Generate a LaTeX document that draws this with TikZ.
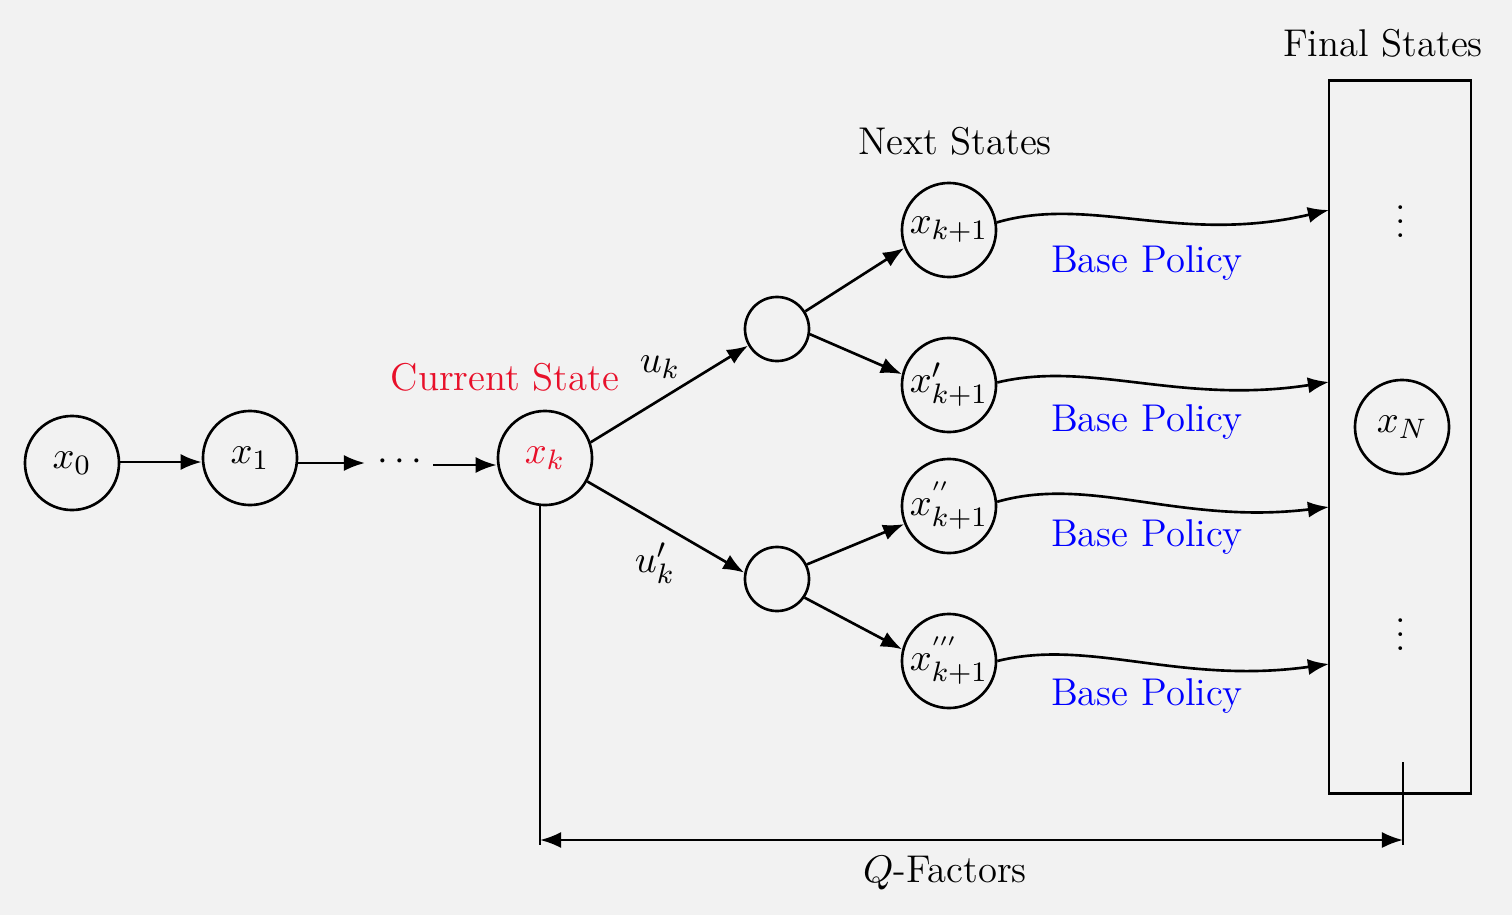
\documentclass[tikz,border=0pt]{standalone}
\usetikzlibrary{arrows.meta}
\definecolor{bgc}{HTML}{F2F2F2}
\definecolor{curred}{HTML}{E8102A}
\begin{document}
\begin{tikzpicture}[x=0.01cm,y=-0.01cm,font=\fontsize{11}{13}\selectfont,
  st/.style={circle,draw,line width=0.75pt,minimum size=0.94cm,inner sep=0pt},
  sm/.style={circle,draw,line width=0.75pt,minimum size=0.64cm,inner sep=0pt},
  tip/.tip={Latex[length=6pt,width=4.6pt]},
  arr/.style={-tip,line width=0.75pt},
  thinl/.style={line width=0.4pt},
  bp/.style={text=blue}]
\fill[bgc] (0,0) rectangle (1512,915);
\useasboundingbox (0,0) rectangle (1512,915);
% chain
\node[st] (x0) at (72,463) {$x_0$};
\node[st] (x1) at (250,458) {$x_1$};
\node (dots) at (400,462) {$\cdots$};
\node[st] (xk) at (545,458) {\color{curred}$x_k$};
\node[text=curred] (cur) at (505,377) {Current State};
% intermediate
\node[sm] (up) at (777,329) {};
\node[sm] (lo) at (777,579) {};
% next states
\node[st] (n1) at (949,230) {$x_{k+1}$};
\node[st] (n2) at (949,385) {$x'_{k+1}$};
\node[st] (n3) at (949,506) {$x^{''}_{k+1}$};
\node[st] (n4) at (949,661) {$x^{'''}_{k+1}$};
\node (next) at (955,141) {Next States};
% final box
\node[draw,line width=0.8pt,minimum width=1.42cm,minimum height=7.12cm,inner sep=0pt] (box) at (1400,437) {};
\node[st] (xN) at (1402,427) {$x_N$};
\node (vd1) at (1401,211) {$\vdots$};
\node (vd2) at (1401,624) {$\vdots$};
\node (final) at (1383,43) {Final States};
% labels
\node (uk) at (660,367) {$u_k$};
\node (ukp) at (655,563) {$u'_k$};
\node[bp] (b1) at (1147,263) {Base Policy};
\node[bp] (b2) at (1147,422) {Base Policy};
\node[bp] (b3) at (1147,537) {Base Policy};
\node[bp] (b4) at (1147,696) {Base Policy};
% arrows chain
\draw[arr] (x0.east |- 0,462) -- (x1.west |- 0,462);
\draw[arr] (x1.east |- 0,463) -- (365,463);
\draw[arr] (433,465) -- (xk.west |- 0,465);
\draw[arr] (xk.19) -- (up.210);
\draw[arr] (xk.-29) -- (lo.169);
\draw[arr] (up.32) -- (n1.202);
\draw[arr] (up.-9) -- (n2.167);
\draw[arr] (lo.26) -- (n3.202);
\draw[arr] (lo.-34) -- (n4.166);
% base policy curves
\coordinate (e1) at (1329,210);
\coordinate (e2) at (1329,382);
\coordinate (e3) at (1329,507);
\coordinate (e4) at (1329,664);
\draw[arr] (n1.9) .. controls (1090,195) and (1180,245) .. (e1);
\draw[arr] (n2.3) .. controls (1090,360) and (1180,405) .. (e2);
\draw[arr] (n3.5) .. controls (1090,475) and (1180,525) .. (e3);
\draw[arr] (n4.0) .. controls (1090,638) and (1180,685) .. (e4);
% Q-factors
\coordinate (qa) at (540,845);
\coordinate (qbt) at (1403,762);
\coordinate (qb) at (1403,845);
\coordinate (la) at (540,840);
\coordinate (lb) at (1403,840);
\draw[thinl] (qa |- xk.south) -- (qa);
\draw[thinl] (qbt) -- (qb);
\draw[tip-tip,line width=0.75pt] (la) -- (lb);
\node (qf) at (945,873) {$Q$-Factors};
\end{tikzpicture}
\end{document}
